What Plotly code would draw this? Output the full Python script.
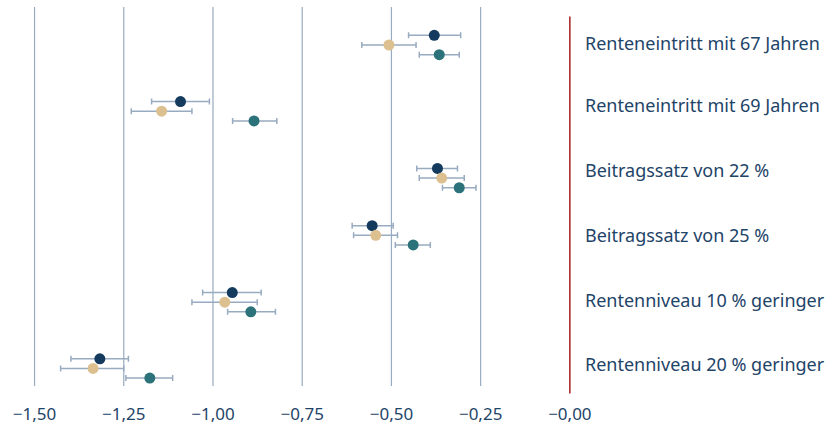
import plotly.graph_objects as go

# ---- data ----
categories = [
    "Renteneintritt mit 67 Jahren",
    "Renteneintritt mit 69 Jahren",
    "Beitragssatz von 22 %",
    "Beitragssatz von 25 %",
    "Rentenniveau 10 % geringer",
    "Rentenniveau 20 % geringer",
]
series_names = ["Serie A", "Serie B", "Serie C"]

a_val = [-0.380, -1.091, -0.371, -0.554, -0.946, -1.317]
a_lo = [-0.452, -1.172, -0.429, -0.610, -1.029, -1.398]
a_hi = [-0.306, -1.010, -0.315, -0.495, -0.865, -1.237]

b_val = [-0.507, -1.144, -0.359, -0.544, -0.967, -1.336]
b_lo = [-0.583, -1.229, -0.422, -0.606, -1.059, -1.427]
b_hi = [-0.431, -1.059, -0.296, -0.483, -0.876, -1.250]

c_val = [-0.366, -0.885, -0.310, -0.439, -0.894, -1.177]
c_lo = [-0.422, -0.945, -0.357, -0.489, -0.959, -1.244]
c_hi = [-0.310, -0.821, -0.263, -0.391, -0.825, -1.113]

tick_vals = [-1.5, -1.25, -1.0, -0.75, -0.5, -0.25, 0.0]
tick_text = ["\u22121,50", "\u22121,25", "\u22121,00", "\u22120,75", "\u22120,50", "\u22120,25", "\u22120,00"]

# ---- layout helpers ----
row_centers = [0.0, 1.03, 2.07, 2.96, 4.0, 5.03]
label_rows = [-0.03, 0.93, 1.94, 2.955, 3.97, 4.96]
offsets = [-0.15, 0.0, 0.15]
colors = ["#143a5e", "#dcc08f", "#2c727a"]
text_color = "#1e4468"
grid_color = "#98abc0"
FONT = "Noto Sans"

fig = go.Figure()
for vals, lo, hi, off, col, name in zip(
    [a_val, b_val, c_val], [a_lo, b_lo, c_lo], [a_hi, b_hi, c_hi], offsets, colors, series_names
):
    fig.add_trace(go.Scatter(
        x=vals,
        y=[r + off for r in row_centers],
        mode="markers",
        name=name,
        marker=dict(color=col, size=11),
        error_x=dict(
            type="data",
            symmetric=False,
            array=[h - v for h, v in zip(hi, vals)],
            arrayminus=[v - l for v, l in zip(vals, lo)],
            color=grid_color,
            thickness=1.5,
            width=3,
        ),
        showlegend=False,
    ))

# vertical gridlines
for tv in tick_vals[:-1]:
    fig.add_shape(type="line", x0=tv, x1=tv, y0=0, y1=1, xref="x", yref="paper",
                  line=dict(color=grid_color, width=1.2), layer="below")
# zero line (red)
fig.add_shape(type="line", x0=0, x1=0, y0=-0.02, y1=0.975, xref="x", yref="paper",
              line=dict(color="#a3201f", width=1.5), layer="above")

for lab, ly in zip(categories, label_rows):
    fig.add_annotation(text=lab, x=1.0, xref="paper", y=ly, yref="y",
                       xanchor="left", yanchor="middle", xshift=6, showarrow=False,
                       font=dict(family=FONT, size=18, color=text_color))

fig.update_layout(
    width=829, height=427,
    margin=dict(l=6, r=252, t=7, b=41),
    paper_bgcolor="white", plot_bgcolor="white",
    font=dict(family=FONT, size=17, color=text_color),
    xaxis=dict(range=[-1.58, 0.02], tickvals=tick_vals, ticktext=tick_text,
               showgrid=False, zeroline=False, showline=False, ticks="",
               automargin=False,
               ticklabelstandoff=16, tickfont=dict(family=FONT, size=17, color=text_color)),
    yaxis=dict(range=[5.303, -0.591], showgrid=False, zeroline=False, showline=False,
               showticklabels=False, ticks="", automargin=False),
)

fig.write_html("out.html", config={"displayModeBar": False},
               post_script="document.body.style.margin='0';")
